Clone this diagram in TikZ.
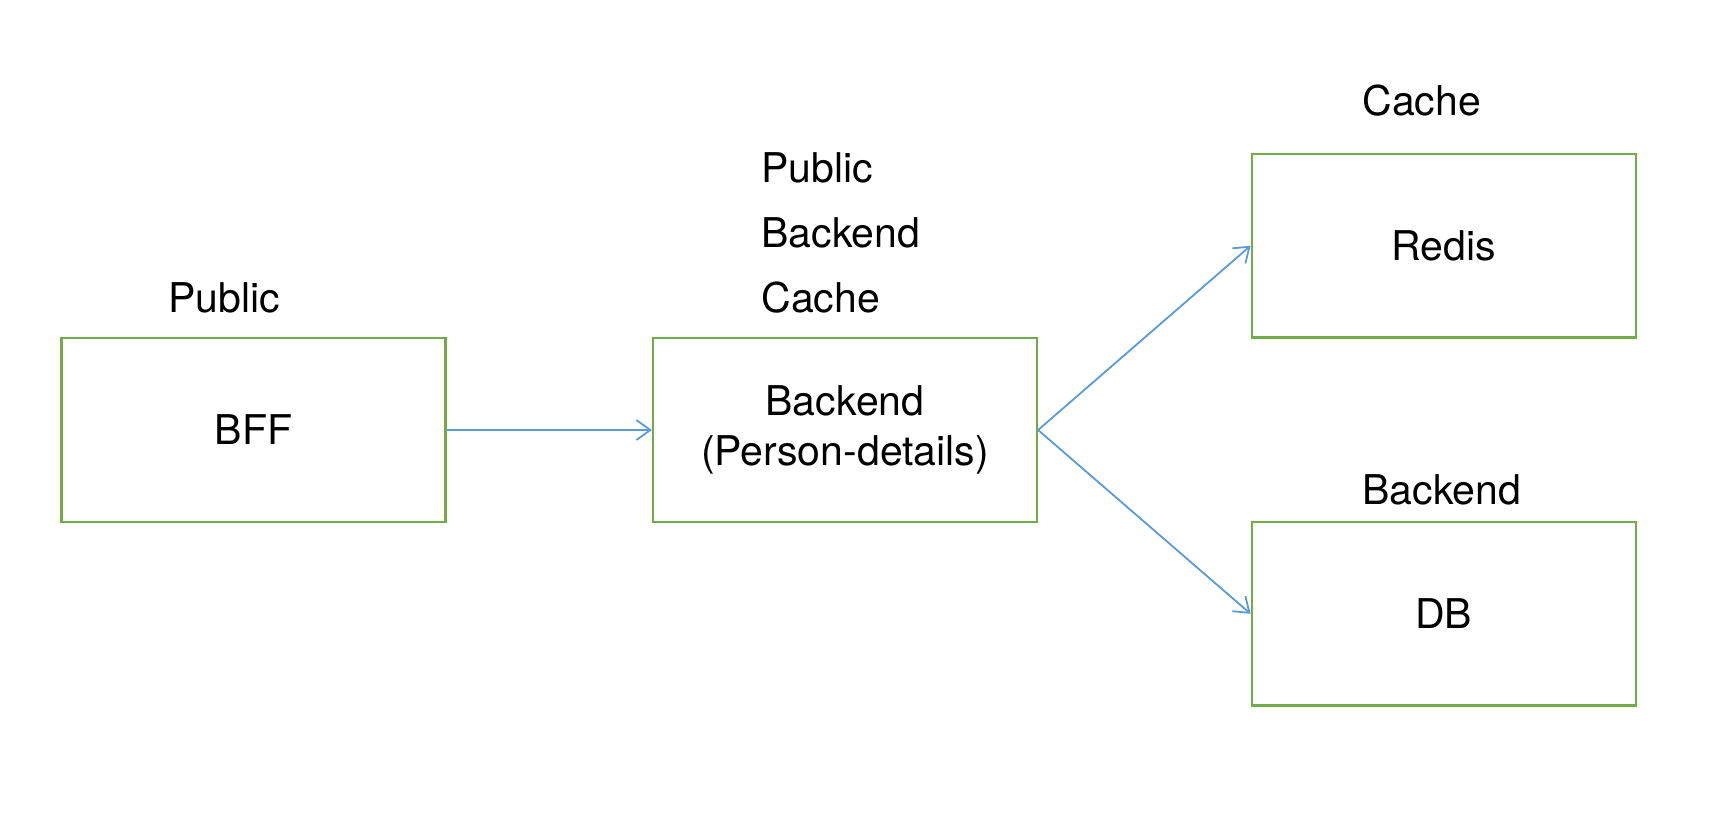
\documentclass[tikz,border=0pt]{standalone}
\usepackage{fontspec}
\setmainfont{TeX Gyre Heros}
\usetikzlibrary{arrows.meta}
\definecolor{boxgreen}{HTML}{70AD47}
\definecolor{arrblue}{HTML}{5B9BD5}
\begin{document}
\begin{tikzpicture}[x=0.5pt,y=-0.5pt,
  every node/.style={font=\fontsize{20.5pt}{25pt}\selectfont, text=black},
  box/.style={draw=boxgreen, line width=1.1pt, minimum width=192pt, minimum height=91.75pt, inner sep=0pt, align=center},
  lbl/.style={anchor=base west, inner sep=0pt},
  arr/.style={draw=arrblue, line width=0.9pt, -{Straight Barb[length=7pt,width=10pt,line width=0.9pt]}}]
\useasboundingbox (0,0) rectangle (1720,836);
\node[box] (bff) at (253.5,430) {BFF};
\node[box] (be) at (845,430) {Backend\\(Person-details)};
\node[box] (redis) at (1443.7,245.7) {Redis};
\node[box] (db) at (1443.7,613.8) {DB};
\node[anchor=base, inner sep=0pt] (lpub) at (224,312) {Public};
\node[lbl] (l1) at (761,182.5) {Public};
\node[lbl] (l2) at (761,247.5) {Backend};
\node[lbl] (l3) at (761,312) {Cache};
\node[lbl] (lcache) at (1362,115) {Cache};
\node[lbl] (lback) at (1362,504) {Backend};
\draw[arr] (bff.east) -- (be.west);
\draw[arr] (be.east) -- (redis.west);
\draw[arr] (be.east) -- (db.west);
\end{tikzpicture}
\end{document}
